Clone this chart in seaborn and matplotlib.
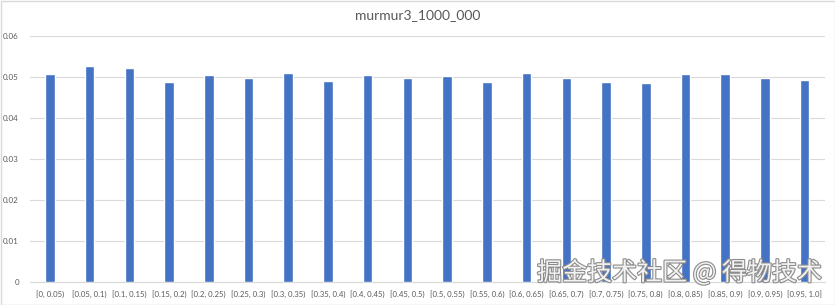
import matplotlib
matplotlib.use("Agg")
import matplotlib.pyplot as plt
import matplotlib.patheffects as pe
import seaborn as sns
import pandas as pd

title = "murmur3_1000_000"
categories = ["[0, 0.05)", "[0.05, 0.1)", "[0.1, 0.15)", "[0.15, 0.2)", "[0.2, 0.25)",
              "[0.25, 0.3)", "[0.3, 0.35)", "[0.35, 0.4)", "[0.4, 0.45)", "[0.45, 0.5)",
              "[0.5, 0.55)", "[0.55, 0.6)", "[0.6, 0.65)", "[0.65, 0.7)", "[0.7, 0.75)",
              "[0.75, 0.8)", "[0.8, 0.85)", "[0.85, 0.9)", "[0.9, 0.95)", "[0.95, 1.0]"]
values = [0.0506, 0.0527, 0.0522, 0.0487, 0.0504, 0.0498, 0.0509, 0.0489, 0.0504, 0.0498,
          0.0502, 0.0487, 0.0509, 0.0496, 0.0487, 0.0484, 0.0507, 0.0507, 0.0496, 0.0493]
yticks = [0, 0.01, 0.02, 0.03, 0.04, 0.05, 0.06]
ytick_labels = ["0", "0.01", "0.02", "0.03", "0.04", "0.05", "0.06"]
watermark = "掘金技术社区 @ 得物技术"

sns.set_theme(style="white")
plt.rcParams['font.family'] = ['Noto Sans CJK SC', 'DejaVu Sans']

df = pd.DataFrame({"bin": categories, "frac": values})

fig = plt.figure(figsize=(8.35, 3.05), dpi=100)
ax = fig.add_axes([30/835, 1 - 282/305, (824.5 - 30)/835, (282 - 35.7)/305])

sns.barplot(data=df, x="bin", y="frac", color="#4472C4", saturation=1,
            width=0.24, ax=ax, zorder=3)

ax.set_ylim(0, 0.06)
ax.set_xlim(-0.5, len(categories) - 0.5)
ax.set_yticks(yticks)
ax.set_yticklabels(ytick_labels)
ax.yaxis.grid(True, color="#D9D9D9", linewidth=0.8, zorder=0)
ax.set_axisbelow(True)
for s in ax.spines.values():
    s.set_visible(False)
ax.spines["bottom"].set_visible(True)
ax.spines["bottom"].set_color("#D9D9D9")
ax.spines["bottom"].set_linewidth(0.8)
ax.set_xlabel("")
ax.set_ylabel("")
ax.tick_params(axis="x", labelsize=5.6, colors="#595959", length=0, pad=6)
ax.tick_params(axis="y", labelsize=5.8, colors="#595959", length=0, pad=8)
for lbl in ax.get_yticklabels():
    lbl.set_fontfamily("Lato")
for lbl in ax.get_xticklabels():
    lbl.set_fontfamily("Lato")

fig.text(0.5, 1 - 15/305, title, ha="center", va="center", fontsize=10,
         color="#595959", family="Lato")

fig.text(822/835, 1 - 273/305, watermark, ha="right", va="center", fontsize=18,
         color="#F2F2F2",
         path_effects=[pe.withStroke(linewidth=1.6, foreground="#8C8C8C")])

border = plt.Rectangle((0.5/835, 0.5/305), 1 - 1/835, 1 - 1/305, transform=fig.transFigure,
                       fill=False, edgecolor="#D9D9D9", linewidth=1)
fig.patches.append(border)

fig.savefig("out.png", dpi=100)
